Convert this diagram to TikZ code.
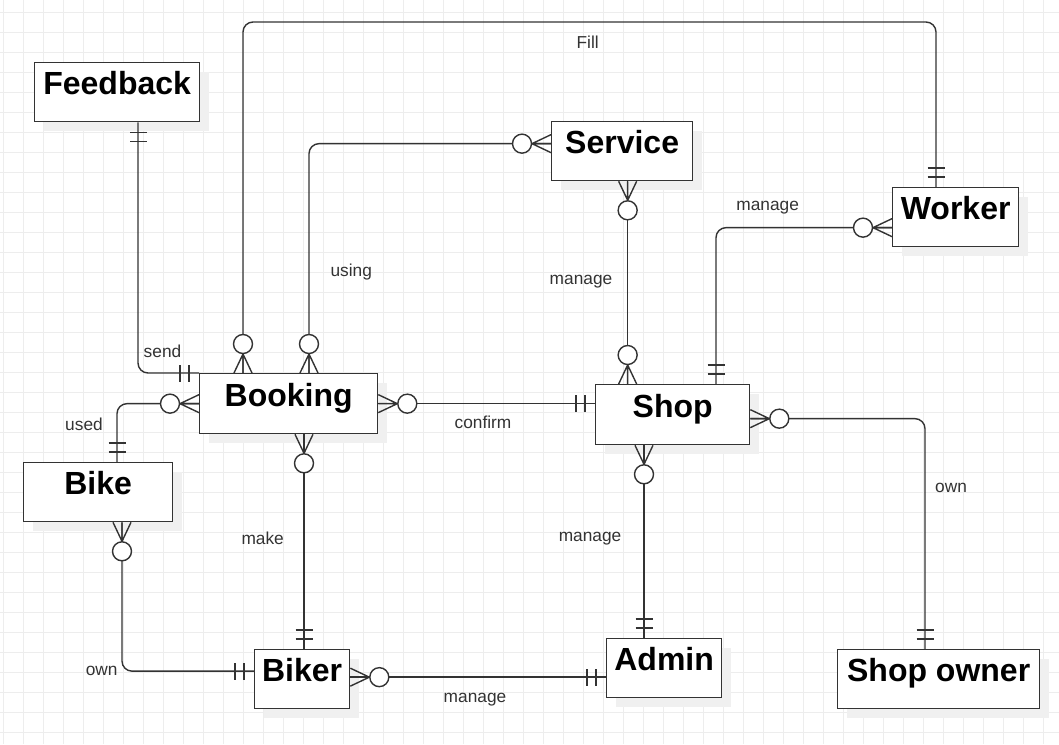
\documentclass[tikz,border=0pt]{standalone}
\usepackage{fontspec}
\setmainfont{Liberation Sans}
\usetikzlibrary{shadows,calc}
\definecolor{gridc}{HTML}{EDEDED}
\definecolor{linec}{HTML}{333333}
\definecolor{txtc}{HTML}{333333}
\tikzset{
  gridline/.style={draw=gridc, line width=0.9pt},
  entity/.style={draw=linec, line width=1.3pt, fill=white, anchor=north west, inner sep=0pt,
    font=\fontsize{32pt}{38pt}\selectfont\bfseries, text height=24pt, text depth=19pt,
    general shadow={fill=black!6, shadow xshift=9pt, shadow yshift=-9pt}},
  conn/.style={draw=linec, line width=1.4pt, rounded corners=10pt},
  deco/.style={draw=linec, line width=1.4pt},
  lbl/.style={anchor=base, inner sep=0pt, text=txtc, font=\fontsize{17.3pt}{20pt}\selectfont},
  zm/.pic={\draw[deco] (0,9) -- (19,0) (0,0) -- (19,0) (0,-9) -- (19,0);
           \draw[deco, fill=white] (29,0) circle [radius=9.5pt];},
  one/.pic={\draw[deco] (10,-8.5) -- (10,8.5) (19,-8.5) -- (19,8.5);}
}
\begin{document}
\begin{tikzpicture}[x=1pt,y=-1pt]
\useasboundingbox (0,0) rectangle (1059,744);
\fill[white] (0,0) rectangle (1059,744);
\foreach \i in {0,...,52} \draw[gridline] ({3.3+20*\i},0) -- ({3.3+20*\i},744);
\foreach \j in {0,...,36} \draw[gridline] (0,{12.3+20*\j}) -- (1059,{12.3+20*\j});

% entities
\node[entity, minimum width=165pt, minimum height=59pt] (Feedback) at (34,62) {Feedback};
\node[entity, minimum width=178pt, minimum height=60pt] (Booking) at (199,373) {Booking};
\node[entity, minimum width=141pt, minimum height=59pt] (Service) at (551,121) {Service};
\node[entity, minimum width=154pt, minimum height=60pt] (Shop) at (595,384) {Shop};
\node[entity, minimum width=126pt, minimum height=59pt] (Worker) at (892,187) {Worker};
\node[entity, minimum width=149pt, minimum height=59pt] (Bike) at (23,462) {Bike};
\node[entity, minimum width=95pt, minimum height=59pt] (Biker) at (254,649) {Biker};
\node[entity, minimum width=115pt, minimum height=59pt] (Admin) at (606,638) {Admin};
\node[entity, minimum width=202pt, minimum height=59pt] (ShopOwner) at (837,649) {Shop owner};

% connector end points
\coordinate (filltop) at (0,22);
\coordinate (f1) at ([xshift=44pt]Booking.north west);
\coordinate (f2) at ([xshift=44pt]Worker.north west);
\coordinate (u1) at ([xshift=110pt]Booking.north west);
\coordinate (u2) at ([yshift=7.5pt]Service.west);
\coordinate (s1) at ([xshift=104pt]Feedback.south west);
\coordinate (b1) at ([xshift=94pt]Bike.north west);
\coordinate (m1) at ([xshift=105pt]Booking.south west);
\coordinate (o1) at ([xshift=99pt]Bike.south west);
\coordinate (o2) at ([yshift=8pt]Biker.west);
\coordinate (ba1) at ([yshift=2pt]Biker.east);
\coordinate (ss1) at ([xshift=5.5pt]Service.south);
\coordinate (w1) at ([yshift=-10.5pt]Worker.west);
\coordinate (w2) at ([xshift=121pt]Shop.north west);
\coordinate (sa1) at ([xshift=49pt]Shop.south west);
\coordinate (so1) at ([yshift=-4pt]Shop.east);
\coordinate (so2) at ([xshift=88pt]ShopOwner.north west);

% connectors
\draw[conn] (f1) -- (f1 |- filltop) -- (f2 |- filltop) -- (f2);
\draw[conn] (u1) |- (u2);
\draw[conn] (s1) |- (Booking.north west);
\draw[conn] (b1) |- (Booking.west);
\draw[conn] (Booking.east) -- (Booking.east -| Shop.west);
\draw[conn] (m1) -- (m1 |- Biker.north);
\draw[conn] (o1) |- (o2);
\draw[conn] (ba1) -- (ba1 -| Admin.west);
\draw[conn] (ss1) -- (ss1 |- Shop.north);
\draw[conn] (w1) -| (w2);
\draw[conn] (sa1) -- (sa1 |- Admin.north);
\draw[conn] (so1) -| (so2);

% end decorations
\pic[rotate=90] at (f1) {zm};
\pic[rotate=90] at (f2) {one};
\pic[rotate=90] at (u1) {zm};
\pic[rotate=180] at (u2) {zm};
\pic[rotate=-90] at (s1) {one};
\pic[rotate=180] at (Booking.north west) {one};
\pic[rotate=90] at (b1) {one};
\pic[rotate=180] at (Booking.west) {zm};
\pic at (Booking.east) {zm};
\pic[rotate=180] at (Booking.east -| Shop.west) {one};
\pic[rotate=-90] at (m1) {zm};
\pic[rotate=90] at (m1 |- Biker.north) {one};
\pic[rotate=-90] at (o1) {zm};
\pic[rotate=180] at (o2) {one};
\pic at (ba1) {zm};
\pic[rotate=180] at (ba1 -| Admin.west) {one};
\pic[rotate=-90] at (ss1) {zm};
\pic[rotate=90] at (ss1 |- Shop.north) {zm};
\pic[rotate=180] at (w1) {zm};
\pic[rotate=90] at (w2) {one};
\pic[rotate=-90] at (sa1) {zm};
\pic[rotate=90] at (sa1 |- Admin.north) {one};
\pic at (so1) {zm};
\pic[rotate=90] at (so2) {one};

% labels
\node[lbl] (lFill) at (587.7,48.3) {Fill};
\node[lbl] (lUsing) at (351.3,276.7) {using};
\node[lbl] (lSend) at (162.5,357.3) {send};
\node[lbl] (lUsed) at (84,430) {used};
\node[lbl] (lConfirm) at (483,428) {confirm};
\node[lbl] (lMake) at (262.7,544) {make};
\node[lbl] (lOwn) at (101.7,675) {own};
\node[lbl] (lManBA) at (475,702) {manage};
\node[lbl] (lManSS) at (581,284) {manage};
\node[lbl] (lManW) at (767.7,210.7) {manage};
\node[lbl] (lManA) at (590,541) {manage};
\node[lbl] (lOwn2) at (951,492) {own};
\end{tikzpicture}
\end{document}
